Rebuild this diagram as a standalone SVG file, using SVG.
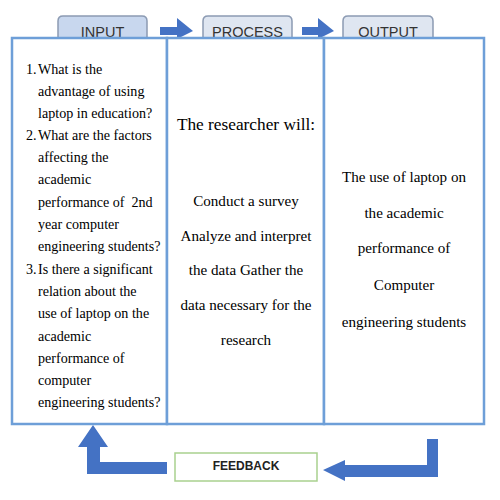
<svg xmlns="http://www.w3.org/2000/svg" width="500" height="500" viewBox="0 0 500 500">
<style>
.tab{stroke:#8c9bb3;stroke-width:1.5}
.tabt{font-family:"Liberation Sans",Arial,sans-serif;font-size:14.5px;fill:#333;text-anchor:middle}
.col{fill:#fff;stroke:#6e9fd8;stroke-width:2.5}
.s{font-family:"Liberation Serif","Times New Roman",serif;font-size:14.1px;fill:#000}
.m{font-family:"Liberation Serif","Times New Roman",serif;font-size:15.1px;fill:#000;text-anchor:middle}
.arr{fill:#4472c4}
</style>
<rect width="500" height="500" fill="#fff"/>
<g id="tabs">
<path class="tab" d="M58,40 V21 Q58,16 63,16 H142 Q147,16 147,21 V40 Z" fill="#c8d7ee"/>
<path class="tab" d="M203,40 V21 Q203,16 208,16 H287 Q292,16 292,21 V40 Z" fill="#dfe6f1"/>
<path class="tab" d="M343,40 V21 Q343,16 348,16 H428 Q433,16 433,21 V40 Z" fill="#dfe6f1"/>
<text class="tabt" x="102.5" y="37">INPUT</text>
<text class="tabt" x="247.5" y="37">PROCESS</text>
<text class="tabt" x="388" y="37">OUTPUT</text>
</g>
<g id="connectors">
<path class="arr" d="M160,27 H177 V18 L193,31 L177,39 V35 H160 Z"/>
<path class="arr" d="M302,27 H318 V18 L334,31 L318,39 V35 H302 Z"/>
<path class="arr" d="M167,462 H100 V447 H108 L93,425 L78,447 H87 V474 H167 Z"/>
<path class="arr" d="M427,439 H438 V477 H345 V481 L323,470 L345,460 V465 H427 Z"/>
</g>
<g id="input">
<rect class="col" x="12" y="38" width="155" height="386"/>
<text class="s"><tspan x="26" y="74">1.</tspan><tspan x="38" y="74">What is the</tspan><tspan x="38" y="96">advantage of using</tspan><tspan x="38" y="118">laptop in education?</tspan><tspan x="26" y="140">2.</tspan><tspan x="38" y="140">What are the factors</tspan><tspan x="38" y="162">affecting the</tspan><tspan x="38" y="184">academic</tspan><tspan x="38" y="207" style="white-space:pre">performance of  2nd</tspan><tspan x="38" y="229">year computer</tspan><tspan x="38" y="251">engineering students?</tspan><tspan x="26" y="274">3.</tspan><tspan x="38" y="274">Is there a significant</tspan><tspan x="38" y="296">relation about the</tspan><tspan x="38" y="318">use of laptop on the</tspan><tspan x="38" y="341">academic</tspan><tspan x="38" y="363">performance of</tspan><tspan x="38" y="385">computer</tspan><tspan x="38" y="407">engineering students?</tspan></text>
</g>
<g id="process">
<rect class="col" x="167" y="38" width="157" height="386"/>
<text class="m" x="246" y="130" style="font-size:17.3px">The researcher will:</text>
<text class="m"><tspan x="246" y="206">Conduct a survey</tspan><tspan x="246" y="241">Analyze and interpret</tspan><tspan x="246" y="275">the data Gather the</tspan><tspan x="246" y="310">data necessary for the</tspan><tspan x="246" y="345">research</tspan></text>
</g>
<g id="output">
<rect class="col" x="324" y="38" width="160" height="386"/>
<text class="m"><tspan x="404" y="182">The use of laptop on</tspan><tspan x="404" y="218">the academic</tspan><tspan x="404" y="253">performance of</tspan><tspan x="404" y="290">Computer</tspan><tspan x="404" y="327">engineering students</tspan></text>
</g>
<g id="feedback">
<rect x="175" y="453" width="142" height="28" fill="#fff" stroke="#a9d18e" stroke-width="1.5"/>
<text x="246" y="470" text-anchor="middle" style="font-family:'Liberation Sans',Arial,sans-serif;font-size:12px;font-weight:bold;fill:#222">FEEDBACK</text>
</g>
</svg>
